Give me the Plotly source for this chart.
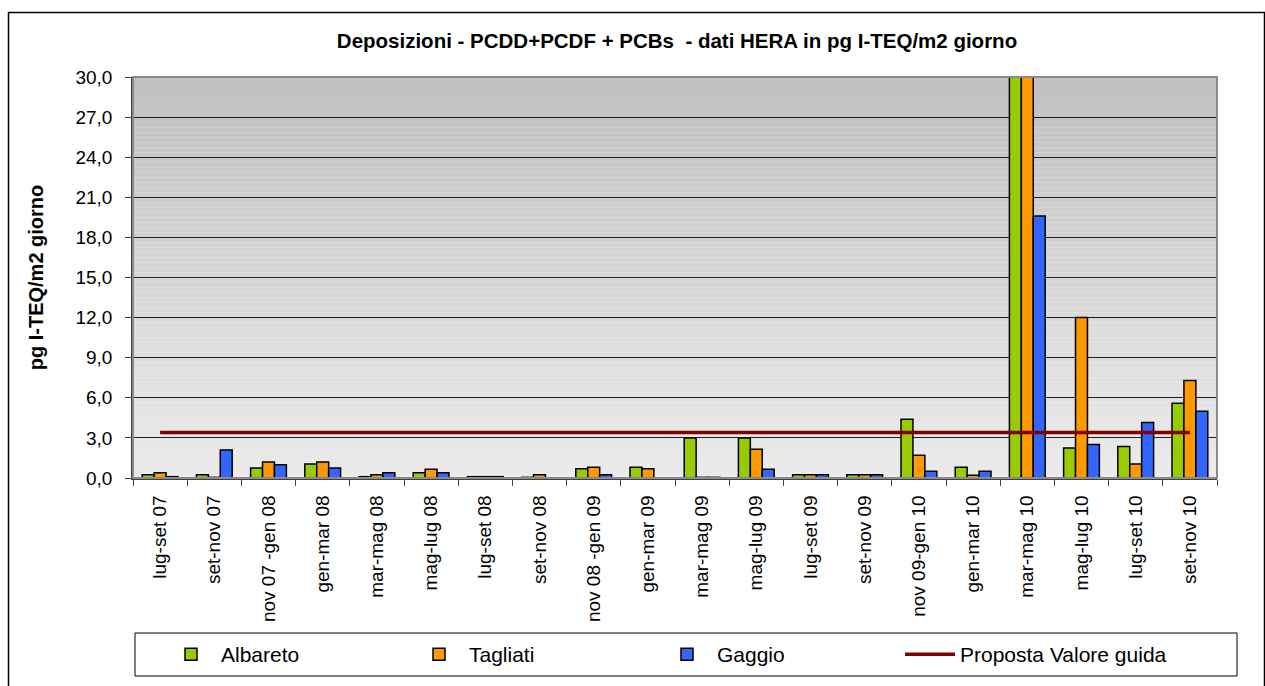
import plotly.graph_objects as go

# Sampling periods (bimonthly), 2007-2010
periods = [
    "lug-set 07", "set-nov 07", "nov 07 -gen 08", "gen-mar 08", "mar-mag 08",
    "mag-lug 08", "lug-set 08", "set-nov 08", "nov 08 -gen 09", "gen-mar 09",
    "mar-mag 09", "mag-lug 09", "lug-set 09", "set-nov 09", "nov 09-gen 10",
    "gen-mar 10", "mar-mag 10", "mag-lug 10", "lug-set 10", "set-nov 10",
]

# Deposition, pg I-TEQ/m2 per day
albareto = [0.25, 0.25, 0.75, 1.05, 0.1, 0.4, 0.1, 0.05, 0.7, 0.8,
            3.0, 3.0, 0.25, 0.25, 4.4, 0.8, 38.5, 2.25, 2.35, 5.6]
tagliati = [0.4, 0.05, 1.2, 1.2, 0.25, 0.65, 0.1, 0.25, 0.8, 0.7,
            0.05, 2.15, 0.25, 0.25, 1.7, 0.2, 41.0, 12.0, 1.05, 7.3]
gaggio = [0.1, 2.1, 1.0, 0.75, 0.4, 0.4, 0.1, 0.0, 0.25, 0.0,
          0.05, 0.65, 0.25, 0.25, 0.5, 0.5, 19.6, 2.5, 4.15, 5.0]

# Proposed guide value
guide_value = [3.4] * len(periods)

FONT = "Arial, Liberation Sans, sans-serif"
W, H = 1265, 686
L, R, T, B = 133, 48, 77, 208
PW, PH = W - L - R, H - T - B


def px_x(p):
    return (p - L) / PW


def px_y(p):
    return (H - B - p) / PH


fig = go.Figure()

bar_style = dict(marker_line_color="#000000", marker_line_width=1.5)
fig.add_trace(go.Bar(name="Albareto", x=periods, y=albareto,
                     marker_color="#99cc00", legend="legend", **bar_style))
fig.add_trace(go.Bar(name="Tagliati", x=periods, y=tagliati,
                     marker_color="#ff9900", legend="legend", **bar_style))
fig.add_trace(go.Bar(name="Gaggio", x=periods, y=gaggio,
                     marker_color="#3366ff", legend="legend", **bar_style))
fig.add_trace(go.Scatter(name="Proposta Valore guida", x=periods, y=guide_value,
                         mode="lines", line=dict(color="#800000", width=3.5),
                         legend="legend2"))

shapes = []

# vertical grey gradient of the plotting area
n_bands = 80
top_rgb = (192, 192, 192)
bot_rgb = (235, 235, 235)
for i in range(n_bands):
    f = i / (n_bands - 1)
    c = [round(top_rgb[k] + (bot_rgb[k] - top_rgb[k]) * f) for k in range(3)]
    shapes.append(dict(
        type="rect", xref="x domain", yref="y domain", layer="below",
        x0=0, x1=1, y0=1 - (i + 1) / n_bands, y1=1 - i / n_bands,
        fillcolor=f"rgb({c[0]},{c[1]},{c[2]})", line_width=0,
    ))

# plot area border
shapes.append(dict(type="rect", xref="x domain", yref="y domain", layer="above",
                   x0=0, x1=1, y0=0, y1=1, line=dict(color="#8a8a8a", width=2),
                   fillcolor="rgba(0,0,0,0)"))

# outer chart frame
shapes.append(dict(type="rect", xref="paper", yref="paper", layer="above",
                   x0=px_x(8.5), x1=px_x(1264.5), y0=px_y(690), y1=px_y(12.5),
                   line=dict(color="#000000", width=1.5), fillcolor="rgba(0,0,0,0)"))

# legend frame
shapes.append(dict(type="rect", xref="paper", yref="paper", layer="above",
                   x0=px_x(135), x1=px_x(1237), y0=px_y(676), y1=px_y(633),
                   line=dict(color="#000000", width=1), fillcolor="rgba(0,0,0,0)"))

legend_common = dict(
    orientation="h",
    y=px_y(654.5), yanchor="middle",
    font=dict(family=FONT, size=21, color="#000000"),
    bgcolor="rgba(0,0,0,0)", borderwidth=0,
    itemwidth=50,
    tracegroupgap=0,
)

fig.update_layout(
    width=W, height=H,
    margin=dict(l=L, r=R, t=T, b=B, pad=0, autoexpand=False),
    paper_bgcolor="#ffffff",
    plot_bgcolor="rgba(0,0,0,0)",
    separators=",.",
    barmode="group",
    bargap=0.34,
    bargroupgap=0,
    font=dict(family=FONT, color="#000000", size=19),
    shapes=shapes,
    title=dict(
        text="Deposizioni - PCDD+PCDF + PCBs  - dati HERA in pg I-TEQ/m2 giorno",
        x=677 / W, xanchor="center",
        y=1 - 41 / H, yanchor="middle",
        font=dict(family=FONT, size=20.5, color="#000000", weight="bold"),
    ),
    showlegend=True,
    legend=dict(x=px_x(161), xanchor="left",
                entrywidth=183, entrywidthmode="pixels", **legend_common),
    legend2=dict(x=px_x(900), xanchor="left", **legend_common),
    xaxis=dict(
        type="category",
        automargin=False,
        tickangle=-90,
        ticks="outside", ticklen=6, tickwidth=1, tickcolor="#404040",
        tickson="boundaries",
        ticklabelstandoff=8,
        showline=True, linecolor="#404040", linewidth=1.5,
        showgrid=False,
        tickfont=dict(family=FONT, size=19, color="#000000"),
    ),
    yaxis=dict(
        automargin=False,
        range=[0, 30],
        tick0=0, dtick=3,
        tickformat=".1f",
        ticks="outside", ticklen=6, tickwidth=1, tickcolor="#404040",
        ticklabelstandoff=9,
        showline=True, linecolor="#404040", linewidth=1.5,
        showgrid=True, gridcolor="#1e1e1e", gridwidth=1,
        zeroline=False,
        tickfont=dict(family=FONT, size=19, color="#000000"),
        title=dict(text="pg I-TEQ/m2 giorno", standoff=26,
                   font=dict(family=FONT, size=20, color="#000000", weight="bold")),
    ),
)

fig.write_html("out.html")
